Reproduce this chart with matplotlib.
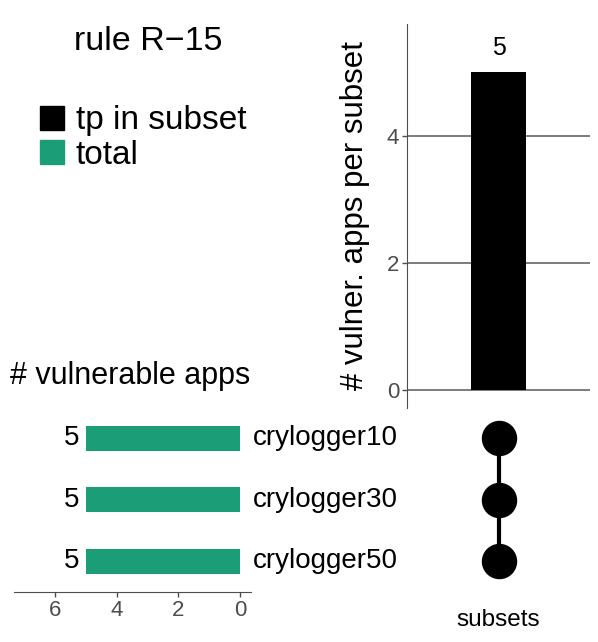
import matplotlib
matplotlib.use("Agg")
import matplotlib.pyplot as plt
from matplotlib.patches import Patch

plt.rcParams['font.family'] = ['Liberation Sans', 'DejaVu Sans']

# data
rule_name = "rule R\u221215"
set_names = ["crylogger10", "crylogger30", "crylogger50"]
set_totals = [5, 5, 5]
subset_sizes = [5]
subset_members = [[0, 1, 2]]   # rows in each subset

W, H = 598, 642
fig = plt.figure(figsize=(W / 100, H / 100), dpi=100)


def px_axes(left, top, right, bottom):
    return fig.add_axes([left / W, 1 - bottom / H, (right - left) / W, (bottom - top) / H])


grey = '#4d4d4d'

# top: intersection sizes
ax_top = px_axes(407, 24, 590, 408)
xs = list(range(1, len(subset_sizes) + 1))
ax_top.bar(xs, subset_sizes, width=0.355, color='black')
for x, v in zip(xs, subset_sizes):
    ax_top.annotate(str(v), (x, v), xytext=(0, 9), textcoords='offset points',
                    ha='center', va='bottom', fontsize=18)
ax_top.set_xlim(0.4, 1.6)
ax_top.set_ylim(-0.28, 5.76)
ax_top.set_yticks([0, 2, 4])
ax_top.yaxis.grid(True, color='#666666', lw=1.2)
ax_top.set_axisbelow(True)
ax_top.set_xticks([])
for s in ['top', 'right', 'bottom']:
    ax_top.spines[s].set_visible(False)
ax_top.spines['left'].set_color(grey)
ax_top.tick_params(axis='y', colors=grey, labelsize=16, length=3.5, width=1, pad=2)
ax_top.set_ylabel("# vulner. apps per subset", fontsize=22.5, labelpad=12)

# matrix
ax_mat = px_axes(407, 407.5, 590, 592)
for x, members in zip(xs, subset_members):
    ax_mat.plot([x] * len(members), members, color='black', lw=3, zorder=1)
    ax_mat.scatter([x] * len(members), members, s=24.5 ** 2, color='black', zorder=2)
ax_mat.set_xlim(0.4, 1.6)
ax_mat.set_ylim(len(set_names) - 0.5, -0.5)
ax_mat.axis('off')
fig.text(498 / W, 1 - 620 / H, "subsets", ha='center', va='center', fontsize=17.5)

# left: set sizes
ax_set = px_axes(14, 407.5, 251, 592)
rows = list(range(len(set_names)))
ax_set.barh(rows, set_totals, height=0.41, color='#1b9e77')
for r, v, name in zip(rows, set_totals, set_names):
    ax_set.annotate(str(v), (v, r), xytext=(-5, 0), textcoords='offset points',
                    ha='right', va='center', fontsize=20)
    ax_set.annotate(name, (1.0, r), xycoords=('axes fraction', 'data'), xytext=(1, 0),
                    textcoords='offset points', ha='left', va='center', fontsize=20)
ax_set.set_xlim(7.34, -0.36)
ax_set.set_ylim(len(set_names) - 0.5, -0.5)
ax_set.set_xticks([0, 2, 4, 6])
ax_set.set_yticks([])
for s in ['top', 'right', 'left']:
    ax_set.spines[s].set_visible(False)
ax_set.spines['bottom'].set_color(grey)
ax_set.tick_params(axis='x', colors=grey, labelsize=16, length=3.5, width=1, pad=2)
fig.text(10 / W, 1 - 376 / H, "# vulnerable apps", ha='left', va='center', fontsize=22)

# title and legend
fig.text(148 / W, 1 - 42 / H, rule_name, ha='center', va='center', fontsize=24.5)
handles = [Patch(color='black', label='tp in subset'), Patch(color='#1b9e77', label='total')]
fig.legend(handles=handles, loc='upper left', bbox_to_anchor=(27 / W, 1 - 92 / H),
           frameon=False, fontsize=24, handlelength=0.72, handleheight=0.72,
           handletextpad=0.35, labelspacing=0.1, borderaxespad=0)

fig.savefig('out.png', dpi=100)
